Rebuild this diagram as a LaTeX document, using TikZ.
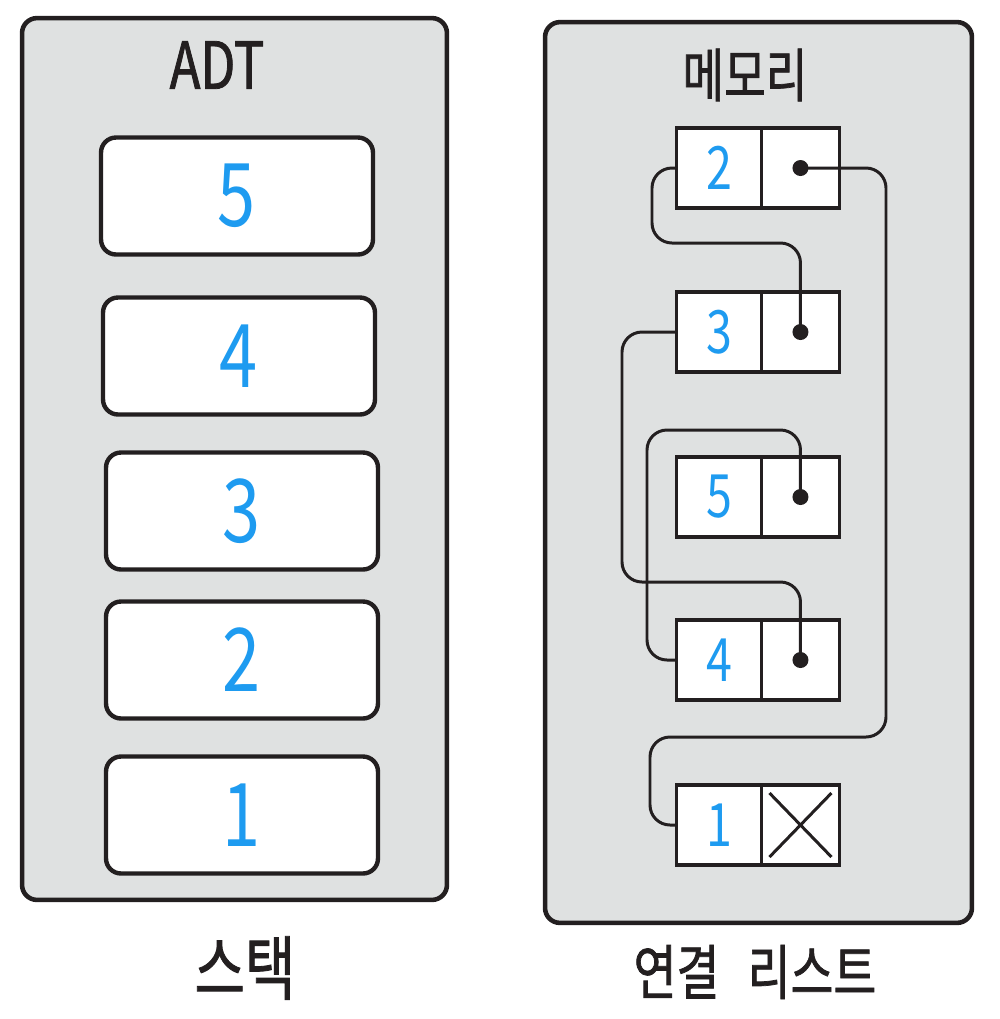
\documentclass[tikz,border=0pt]{standalone}
\usepackage{fontspec}
\setmainfont{Noto Sans CJK KR}
\newfontfamily\handfont[FakeStretch=0.78]{Noto Sans CJK KR}
\newfontfamily\inkfont[FakeStretch=0.78, FakeBold=1.2]{Noto Sans CJK KR}
\usetikzlibrary{positioning}
\definecolor{inkline}{HTML}{231F20}
\definecolor{panelgray}{HTML}{DFE1E1}
\definecolor{digitblue}{HTML}{1E9BF0}

\tikzset{
  panel/.style={draw=inkline, fill=panelgray, line width=2.6pt, rounded corners=0.3cm},
  stackbox/.style={draw=inkline, fill=white, line width=2.5pt, rounded corners=0.3cm, minimum width=5.44cm, minimum height=2.34cm, inner sep=0pt},
  cell/.style={draw=inkline, fill=white, line width=2pt, minimum height=1.6cm, inner sep=0pt, outer sep=0pt},
  valcell/.style={cell, minimum width=1.7cm},
  ptrcell/.style={cell, minimum width=1.56cm},
  dot/.style={circle, fill=inkline, inner sep=0pt, minimum size=0.32cm},
  link/.style={draw=inkline, line width=1.7pt, rounded corners=0.4cm},
  nullmark/.style={draw=inkline, line width=1.7pt},
  bigdigit/.style={text=digitblue, font=\handfont\fontsize{50}{50}\selectfont},
  smalldigit/.style={text=digitblue, font=\handfont\fontsize{34}{34}\selectfont},
  headtext/.style={text=inkline, inner sep=0pt, font=\inkfont\fontsize{35}{35}\selectfont},
  foottext/.style={text=inkline, inner sep=0pt, font=\inkfont\fontsize{38}{38}\selectfont}
}

\begin{document}
\begin{tikzpicture}[x=0.02cm, y=-0.02cm]
  \useasboundingbox[fill=white] (0,0) rectangle (1000,1019);
  % the two panels
  \node[panel, minimum width=8.5cm, minimum height=17.64cm] (adtpanel) at (234.5,459) {};
  \node[panel, minimum width=8.54cm, minimum height=18.02cm] (mempanel) at (758.5,472.5) {};
  \node[headtext, font=\inkfont\fontsize{37}{37}\selectfont] (adt) at (217,65) {ADT};
  \node[headtext, font=\inkfont\fontsize{33}{33}\selectfont] (mem) at (745,75) {메모리};
  \node[foottext, font=\inkfont\fontsize{40}{40}\selectfont] (stk) at (245,968) {스택};
  \node[foottext, font=\inkfont\fontsize{34}{34}\selectfont] (lst) at (755,972) {연결\hspace{0.3em} 리스트};
  % stack
  \foreach \v/\x/\y in {5/237/196, 4/239/356, 3/242/511, 2/242/660, 1/242/815}
    \node[stackbox, bigdigit] (s\v) at (\x,\y) {\v};
  % list nodes
  \foreach \v/\y in {2/168, 3/332, 5/497, 4/660, 1/825} {
    \node[valcell, smalldigit] (v\v) at (719,\y) {\v};
    \node[ptrcell, right=0pt of v\v] (p\v) {};
  }
  \foreach \v in {2,3,5,4}
    \node[dot] (d\v) at (p\v.center) {};
  % links
  \draw[link] (d2.center) -| (886,737) -- (650,737) |- (v1.west);
  \draw[link] (v2.west) -| (652,243) -| (d3.center);
  \draw[link] (v3.west) -| (622,582) -| (d4.center);
  \draw[link] (d5.center) |- (647,430) |- (v4.west);
  \draw[nullmark] ([shift={(0.16cm,-0.16cm)}]p1.north west) -- ([shift={(-0.16cm,0.16cm)}]p1.south east);
  \draw[nullmark] ([shift={(-0.16cm,-0.16cm)}]p1.north east) -- ([shift={(0.16cm,0.16cm)}]p1.south west);
\end{tikzpicture}
\end{document}
